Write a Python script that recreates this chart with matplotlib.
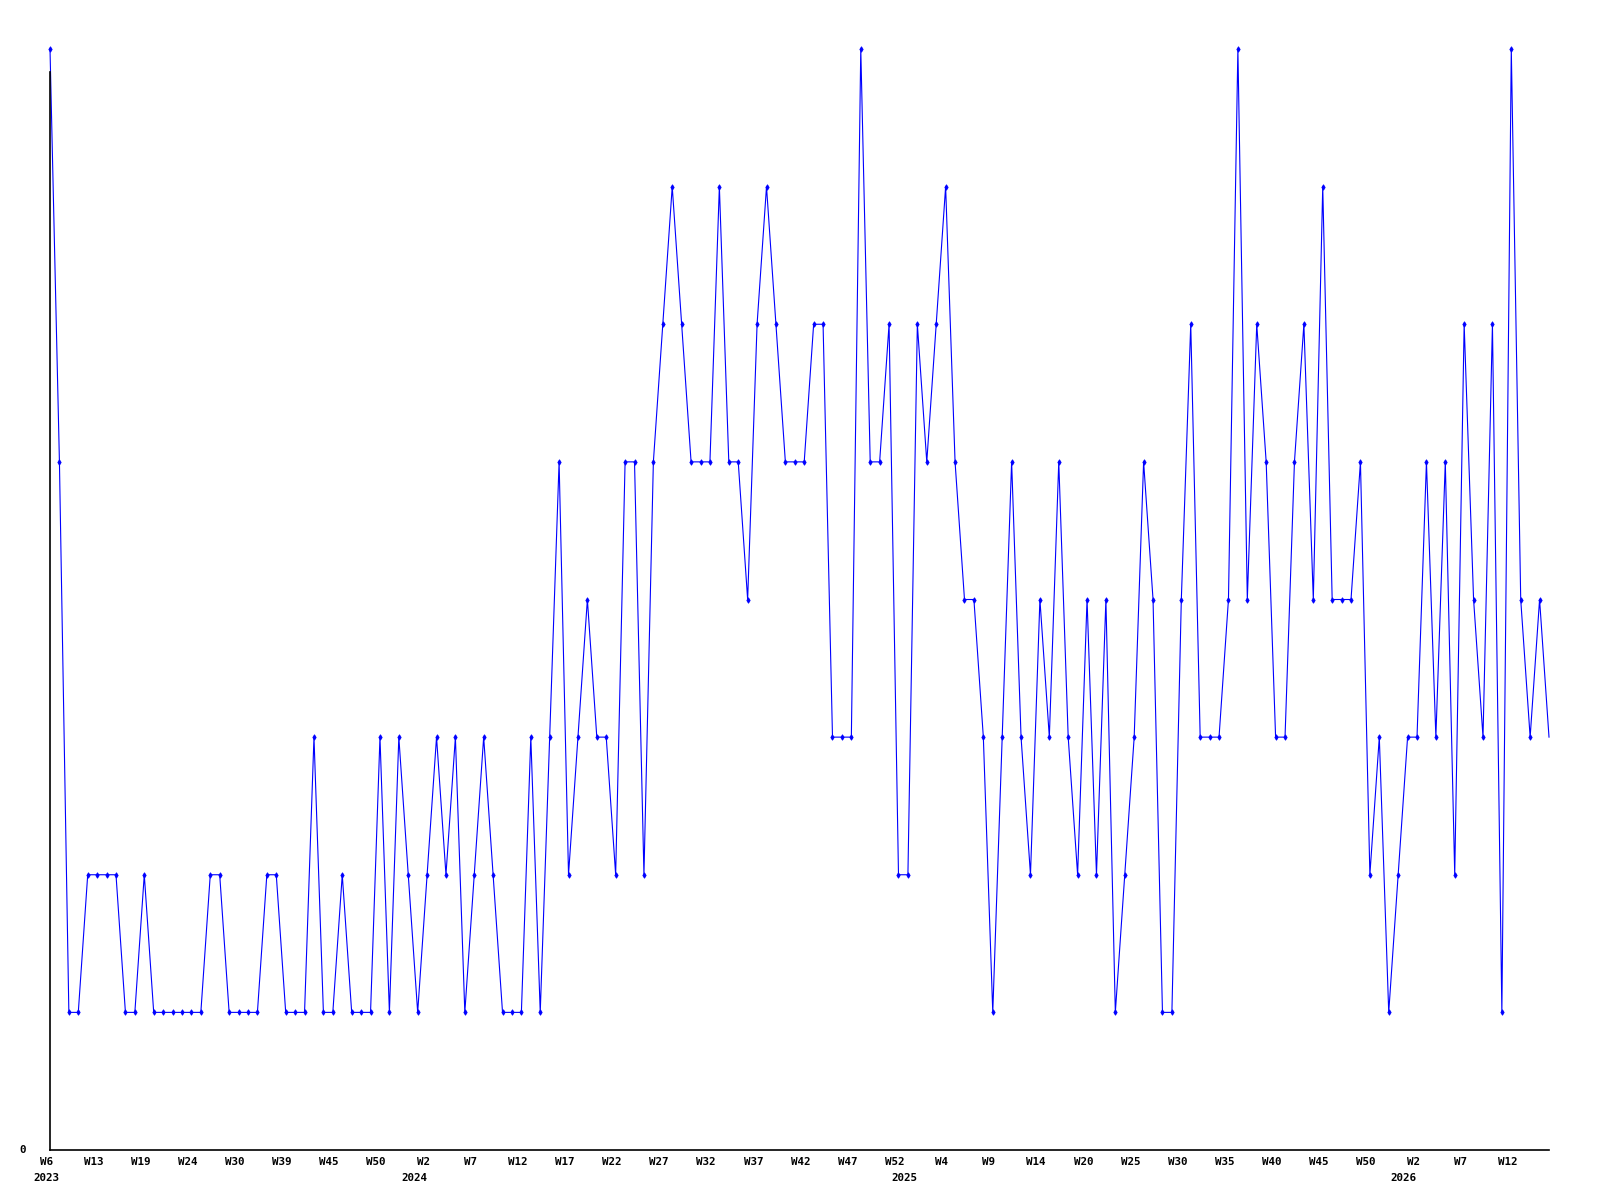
import numpy as np
import matplotlib.pyplot as plt

# valores semanales (niveles enteros), desde W6 2023 hasta W16 2026
valores = [8, 5, 1, 1, 2, 2, 2, 2, 1, 1,
           2, 1, 1, 1, 1, 1, 1, 2, 2, 1,
           1, 1, 1, 2, 2, 1, 1, 1, 3, 1,
           1, 2, 1, 1, 1, 3, 1, 3, 2, 1,
           2, 3, 2, 3, 1, 2, 3, 2, 1, 1,
           1, 3, 1, 3, 5, 2, 3, 4, 3, 3,
           2, 5, 5, 2, 5, 6, 7, 6, 5, 5,
           5, 7, 5, 5, 4, 6, 7, 6, 5, 5,
           5, 6, 6, 3, 3, 3, 8, 5, 5, 6,
           2, 2, 6, 5, 6, 7, 5, 4, 4, 3,
           1, 3, 5, 3, 2, 4, 3, 5, 3, 2,
           4, 2, 4, 1, 2, 3, 5, 4, 1, 1,
           4, 6, 3, 3, 3, 4, 8, 4, 6, 5,
           3, 3, 5, 6, 4, 7, 4, 4, 4, 5,
           2, 3, 1, 2, 3, 3, 5, 3, 5, 2,
           6, 4, 3, 6, 1, 8, 4, 3, 4, 3]

# etiquetas de semana, una cada 5 puntos
semanas = ['W6', 'W13', 'W19', 'W24', 'W30', 'W39', 'W45', 'W50', 'W2', 'W7',
           'W12', 'W17', 'W22', 'W27', 'W32', 'W37', 'W42', 'W47', 'W52', 'W4',
           'W9', 'W14', 'W20', 'W25', 'W30', 'W35', 'W40', 'W45', 'W50', 'W2',
           'W7', 'W12']
paso_semanas = 5

# años y el punto donde empieza cada uno
anios = ['2023', '2024', '2025', '2026']
pos_anios = [0, 39, 91, 144]

x = np.arange(len(valores))

fig = plt.figure(figsize=(16, 12), dpi=100)
ax = fig.add_axes([50/1600, 50/1200, 1499/1600, 1101/1200])

# el ultimo punto no lleva marca
ax.plot(x, valores, color='#0000ff', linewidth=0.8, marker='d',
        markersize=2.8, markeredgewidth=0.6, markevery=list(range(len(valores) - 1)),
        clip_on=False, zorder=3)

ax.set_xlim(0, len(valores) - 1)
ax.set_ylim(0, 8)

for s in ['top', 'right']:
    ax.spines[s].set_visible(False)
ax.spines['left'].set_bounds(0, 7.83)
ax.spines['left'].set_linewidth(1.2)
ax.spines['bottom'].set_linewidth(1.2)
ax.spines['left'].set_zorder(4)

ax.set_xticks([])
ax.set_yticks([])

fuente = dict(family='DejaVu Sans Mono', fontweight='bold', fontsize=7.8)
trans = ax.get_xaxis_transform()
for i, lab in enumerate(semanas):
    ax.text(i * paso_semanas - 0.4, -12/1101, lab, transform=trans,
            ha='center', va='center', **fuente)
for p, lab in zip(pos_anios, anios):
    ax.text(p - 0.4, -28/1101, lab, transform=trans,
            ha='center', va='center', **fuente)

ax.text(-27.5/1499, 0, '0', transform=ax.transAxes, ha='center',
        va='center', **fuente)

fig.savefig('out.png', dpi=100)
